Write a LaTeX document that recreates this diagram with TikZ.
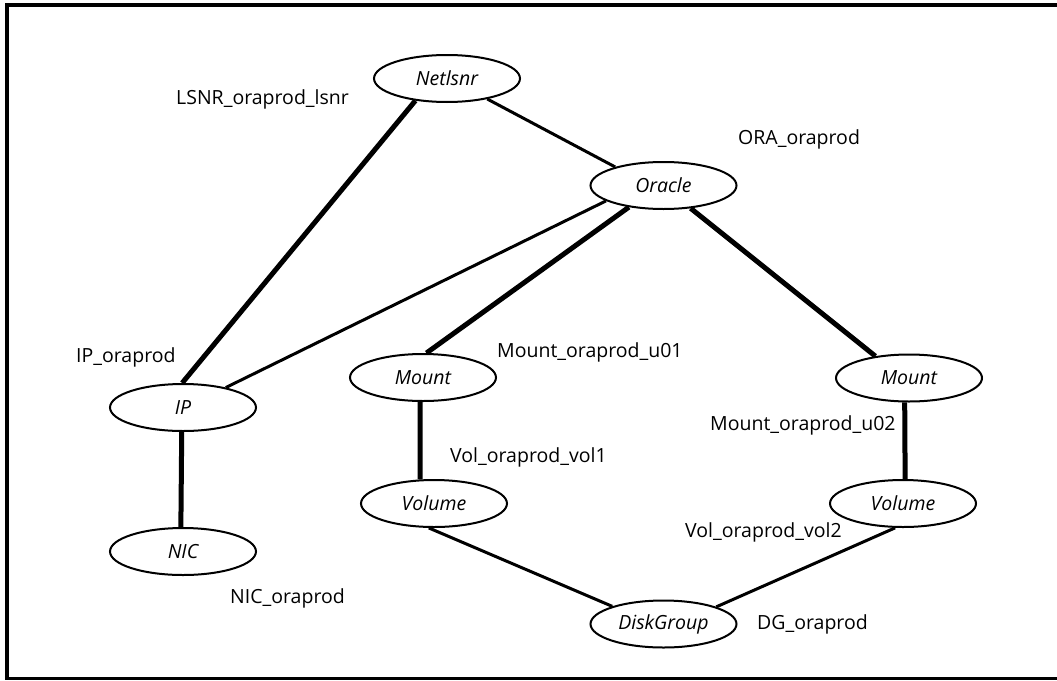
\documentclass[tikz,border=0pt]{standalone}
\usepackage{fontspec}
\setmainfont{Open Sans}
\usepackage{tikz}
\usetikzlibrary{shapes.geometric,positioning}

\begin{document}
\begin{tikzpicture}[x=1pt,y=-1pt,on grid,font=\fontsize{19.5}{23}\selectfont]
        \tikzstyle{res}=[ellipse,draw,line width=2pt,minimum width=146pt,minimum height=47pt,inner sep=0pt,font=\fontsize{19.5}{23}\selectfont\itshape]
        \tikzstyle{heavy}=[line width=5pt]
        \tikzstyle{light}=[line width=3pt]
        \tikzstyle{tag}=[anchor=base west,inner sep=0pt]
        \useasboundingbox (0,0) rectangle (1057,680);
        \draw[line width=3.5pt] (1057,5) -- (7,5) -- (7,678.5) -- (1057,678.5);
        % resources
        \node[res] (Netlsnr) at (447,78.5) {Netlsnr};
        \node[res] (Oracle) [below right=107pt and 216.5pt of Netlsnr] {Oracle};
        \node[res] (IP) [below left=329pt and 264pt of Netlsnr] {IP};
        \node[res] (NIC) [below=144pt of IP] {NIC};
        \node[res] (Mount1) [below left=192pt and 240.5pt of Oracle] {Mount};
        \node[res] (Mount2) [below right=192.5pt and 245.5pt of Oracle] {Mount};
        \node[res] (Volume1) [below right=126pt and 11pt of Mount1] {Volume};
        \node[res] (Volume2) [below left=125.5pt and 6pt of Mount2] {Volume};
        \node[res] (DiskGroup) [below=438.5pt of Oracle] {DiskGroup};
        % resource names
        \node[tag] (lsnrname) at (176,104) {LSNR\_oraprod\_lsnr};
        \node[tag] (oraname) at (738,144) {ORA\_oraprod};
        \node[tag] (ipname) at (76,362) {IP\_oraprod};
        \node[tag] (mnt1name) at (497,357) {Mount\_oraprod\_u01};
        \node[tag] (vol1name) at (450,462) {Vol\_oraprod\_vol1};
        \node[tag] (mnt2name) at (710,430) {Mount\_oraprod\_u02};
        \node[tag] (vol2name) at (685,537) {Vol\_oraprod\_vol2};
        \node[tag] (nicname) at (230,603) {NIC\_oraprod};
        \node[tag] (dgname) at (757,629) {DG\_oraprod};
        % dependencies
        \path[heavy]
        (Netlsnr.215) edge (IP.92)
        (Oracle.212) edge (Mount1.82)
        (Oracle.320) edge (Mount2.147)
        (Mount1.263) edge (Volume1.120)
        (Mount2.260) edge (Volume2.85)
        (IP.267) edge (NIC.95);
        \path[light]
        (Netlsnr.333) edge (Oracle.159)
        (Oracle.195) edge (IP.25)
        (Volume1.258) edge (DiskGroup.161)
        (Volume2.252) edge (DiskGroup.18);
    \end{tikzpicture}
\end{document}
